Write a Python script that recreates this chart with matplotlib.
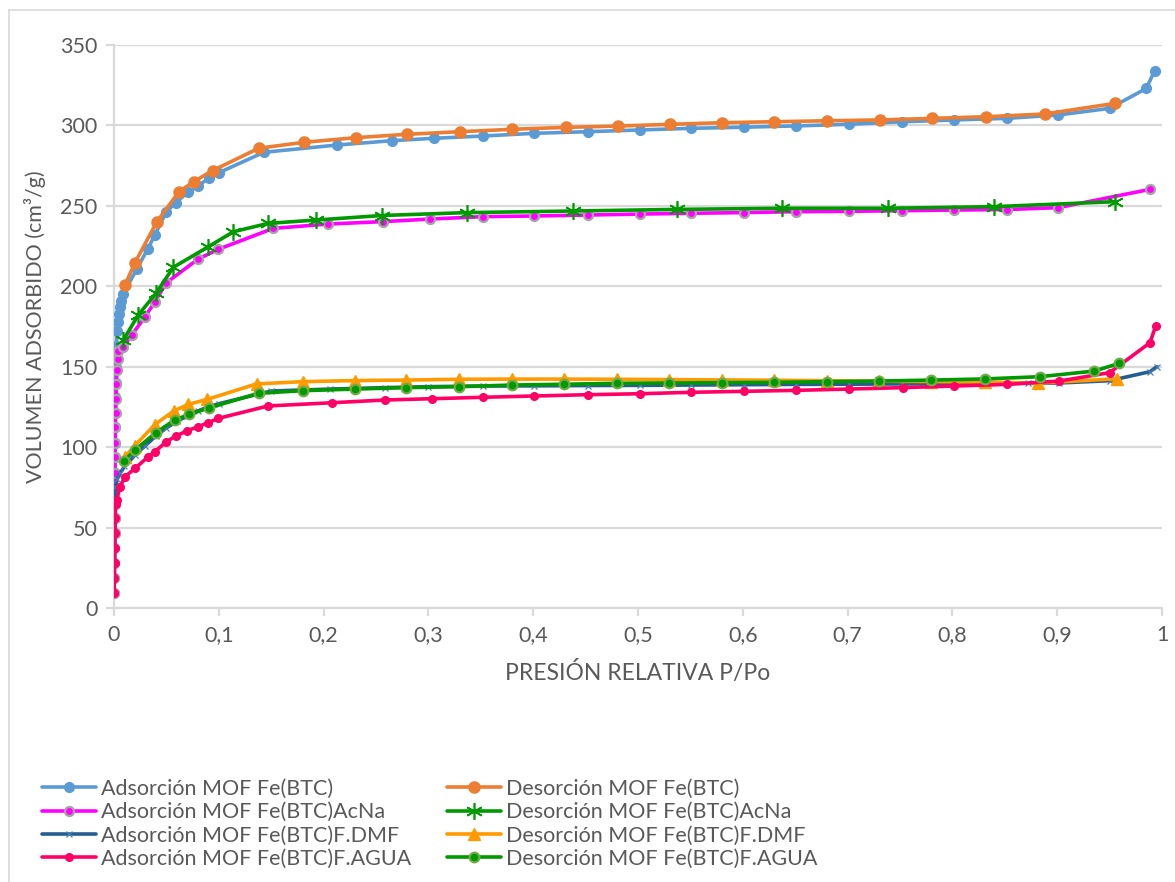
import matplotlib
matplotlib.use("Agg")
import matplotlib.pyplot as plt
from matplotlib.lines import Line2D

plt.rcParams['font.family'] = ['Lato', 'DejaVu Sans']

# ---------------- data ----------------
p_ads_btc = [0.0001, 0.0002, 0.0003, 0.0004, 0.0005, 0.0006, 0.0007, 0.0008, 0.0009, 0.001,
             0.0011, 0.0012, 0.0013, 0.0014, 0.0015, 0.0018, 0.0022, 0.003, 0.004, 0.005,
             0.006, 0.007, 0.009, 0.0216, 0.032, 0.039, 0.050, 0.059, 0.071, 0.080, 0.091,
             0.100, 0.143, 0.2125, 0.265, 0.305, 0.352, 0.401, 0.452, 0.502, 0.551, 0.601,
             0.651, 0.701, 0.752, 0.802, 0.852, 0.901, 0.950, 0.985, 0.993]
v_ads_btc = [9.1, 18.5, 27.8, 37.1, 46.4, 55.8, 64.7, 75, 84, 94,
             102.8, 112.7, 121, 131, 140, 150, 163, 172, 178, 183,
             187, 191, 195.5, 210.5, 223, 231.9, 246.4, 252, 258.8, 262.3, 267.5,
             270.6, 283.3, 287.8, 290.5, 292, 293.4, 295.1, 296.1, 297.2, 298.2, 298.9,
             299.7, 300.7, 302.3, 303.4, 304.4, 306.5, 310.6, 323, 334]

p_des_btc = [0.0105, 0.020, 0.041, 0.062, 0.076, 0.094, 0.138, 0.181, 0.231, 0.280, 0.330,
             0.380, 0.431, 0.481, 0.531, 0.580, 0.630, 0.680, 0.731, 0.781, 0.832, 0.888, 0.955]
v_des_btc = [200.8, 214.7, 240.2, 258.8, 265, 271.9, 285.8, 289.5, 292.4, 294.5, 296.1,
             297.6, 298.8, 299.6, 300.7, 301.7, 302.3, 302.9, 303.4, 304.4, 305.4, 307.1, 313.7]

p_ads_acna = [0.0001, 0.0002, 0.0003, 0.0004, 0.0005, 0.0006, 0.0007, 0.0008, 0.0009, 0.001,
              0.0012, 0.0014, 0.0016, 0.0019, 0.0023, 0.0028, 0.0034, 0.0042,
              0.009, 0.0169, 0.0296, 0.039, 0.050, 0.080, 0.0995, 0.152, 0.2045, 0.257,
              0.3015, 0.352, 0.401, 0.452, 0.502, 0.551, 0.601, 0.651, 0.701, 0.752,
              0.802, 0.852, 0.901, 0.989]
v_ads_acna = [9.1, 18.5, 27.8, 37.1, 46.4, 55.8, 64.7, 75, 84, 94,
              102.8, 112.7, 121, 130, 139, 148, 155, 160,
              162.4, 169.7, 181, 190.4, 202.2, 216.8, 223, 236, 238.7, 240.2,
              241.8, 243.3, 243.7, 244.3, 244.9, 245.4, 245.8, 246.4, 246.6, 247,
              247.4, 247.7, 248.9, 260.3]

p_des_acna = [0.0089, 0.023, 0.040, 0.0566, 0.090, 0.1139, 0.147, 0.193, 0.2554, 0.3365,
              0.438, 0.5375, 0.637, 0.739, 0.84, 0.955]
v_des_acna = [166.6, 182, 195.6, 211.8, 224.6, 233.9, 239.1, 241.2, 244, 245.8,
              246.8, 247.8, 248.5, 248.5, 249.5, 252.6]

p_ads_dmf = [0.0001, 0.0002, 0.0003, 0.0004, 0.0005, 0.0006, 0.0008, 0.0011,
             0.003, 0.006, 0.01, 0.02, 0.03, 0.04, 0.05, 0.06, 0.07, 0.08, 0.09, 0.1,
             0.15, 0.206, 0.259, 0.30, 0.352, 0.401, 0.452, 0.502, 0.551, 0.601, 0.651,
             0.701, 0.752, 0.802, 0.8725, 0.902, 0.950, 0.9885, 0.995]
v_ads_dmf = [9.1, 18.5, 27.8, 37.1, 46.4, 55.8, 64.7, 75,
             80, 84, 88, 95, 101, 107, 112, 116, 119.5, 122.5, 125, 127,
             134.9, 136.1, 137, 137.6, 138, 138.1, 138.3, 138.4, 138.6, 138.8, 139,
             139.1, 139.3, 139.5, 139.7, 139.9, 141.3, 146.9, 150]

p_des_dmf = [0.0105, 0.020, 0.039, 0.057, 0.071, 0.089, 0.136, 0.180, 0.230, 0.279, 0.3295,
             0.3795, 0.4297, 0.4797, 0.53, 0.58, 0.63, 0.68, 0.730, 0.780, 0.831, 0.882, 0.957]
v_des_dmf = [94, 101, 114, 122.5, 126.6, 129.7, 139.3, 140.7, 141.4, 141.7, 142.2,
             142.3, 142.3, 142.2, 142, 141.8, 141.6, 141.3, 141, 140.8, 140.5, 139.8, 142.5]

p_ads_agua = [0.0002, 0.0004, 0.0006, 0.0008, 0.001, 0.0012, 0.0015, 0.0026,
              0.0057, 0.0105, 0.020, 0.0328, 0.039, 0.050, 0.059, 0.070, 0.080, 0.090,
              0.0996, 0.147, 0.2077, 0.2586, 0.303, 0.352, 0.401, 0.452, 0.502, 0.551,
              0.601, 0.651, 0.701, 0.7526, 0.8018, 0.8518, 0.902, 0.950, 0.9885, 0.994]
v_ads_agua = [9.1, 18.5, 27.8, 37.1, 46.4, 55.8, 64.7, 67.1,
              75.4, 81.6, 86.8, 94.1, 97.2, 103.4, 106.9, 110.2, 112.7, 115.2,
              117.9, 125.6, 127.6, 129.3, 130.1, 131, 131.8, 132.6, 133.2, 134.1,
              134.7, 135.3, 136.1, 137, 138, 139, 141.1, 146.3, 164.9, 175.3]

p_des_agua = [0.0095, 0.020, 0.040, 0.058, 0.072, 0.091, 0.138, 0.180, 0.230, 0.279, 0.3295,
              0.3795, 0.4297, 0.4797, 0.53, 0.58, 0.63, 0.68, 0.730, 0.780, 0.831, 0.8836,
              0.9354, 0.9593]
v_des_agua = [91.4, 98.2, 109, 116.9, 120.4, 124.5, 133.5, 135.1, 136.1, 137, 137.6,
              138.6, 139.1, 139.7, 139.9, 140.1, 140.3, 140.7, 141.1, 141.7, 142.4, 143.8,
              147.3, 152.1]

labels = ["Adsorción MOF Fe(BTC)", "Desorción MOF Fe(BTC)",
          "Adsorción MOF Fe(BTC)AcNa", "Desorción MOF Fe(BTC)AcNa",
          "Adsorción MOF Fe(BTC)F.DMF", "Desorción MOF Fe(BTC)F.DMF",
          "Adsorción MOF Fe(BTC)F.AGUA", "Desorción MOF Fe(BTC)F.AGUA"]

x_ticks = [0, 0.1, 0.2, 0.3, 0.4, 0.5, 0.6, 0.7, 0.8, 0.9, 1]
x_tick_labels = ["0", "0,1", "0,2", "0,3", "0,4", "0,5", "0,6", "0,7", "0,8", "0,9", "1"]
y_ticks = [0, 50, 100, 150, 200, 250, 300, 350]

# ---------------- figure ----------------
W, H = 1175, 882
fig = plt.figure(figsize=(W / 100, H / 100), dpi=100)
ax = fig.add_axes([114 / W, 1 - 608 / H, (1162 - 114) / W, (608 - 45) / H])

lw = 2.6
star = (6, 2, 0)
styles = [
    dict(color="#5B9BD5", marker="o", ms=7, mfc="#5B9BD5", mec="#5B9BD5"),
    dict(color="#ED7D31", marker="o", ms=8, mfc="#ED7D31", mec="#ED7D31"),
    dict(color="#FF00FF", marker="o", ms=6.5, mfc="#FF00FF", mec="#A5A5A5", mew=1.6),
    dict(color="#009A00", marker=star, ms=12, mfc="#009A00", mec="#009A00", mew=1.2),
    dict(color="#255E91", marker="x", ms=5, mfc="#255E91", mec="#4A7FB5", mew=0.9),
    dict(color="#FF9A00", marker="^", ms=8, mfc="#FF9A00", mec="#FF9A00"),
    dict(color="#FF0066", marker="o", ms=5.5, mfc="#FF0066", mec="#FF0066"),
    dict(color="#009A00", marker="o", ms=7, mfc="#009A00", mec="#70AD47", mew=1.5),
]
series = [(p_ads_btc, v_ads_btc), (p_des_btc, v_des_btc),
          (p_ads_acna, v_ads_acna), (p_des_acna, v_des_acna),
          (p_ads_dmf, v_ads_dmf), (p_des_dmf, v_des_dmf),
          (p_ads_agua, v_ads_agua), (p_des_agua, v_des_agua)]

handles = []
for i, ((px, vy), st) in enumerate(zip(series, styles)):
    h, = ax.plot(px, vy, lw=lw, zorder=3 + i, solid_joinstyle="round",
                 solid_capstyle="round", label=labels[i], **st)
    handles.append(h)

ax.set_xlim(0, 1)
ax.set_ylim(0, 350)
ax.set_xticks(x_ticks)
ax.set_xticklabels(x_tick_labels)
ax.set_yticks(y_ticks)

grid_c = "#D9D9D9"
ax.yaxis.grid(True, color=grid_c, lw=1.6, zorder=0)
ax.set_axisbelow(True)
for s in ["top", "right"]:
    ax.spines[s].set_visible(False)
for s in ["left", "bottom"]:
    ax.spines[s].set_color(grid_c)
    ax.spines[s].set_linewidth(1.6)
ax.tick_params(axis="both", colors="#595959", labelsize=15.5, length=6, width=1.6,
               direction="out")
ax.tick_params(axis="x", pad=6, color=grid_c)
ax.tick_params(axis="y", pad=6, color=grid_c)

ax.set_xlabel("PRESIÓN RELATIVA P/Po", fontsize=16.5, color="#595959", labelpad=12)
ax.set_ylabel("VOLUMEN ADSORBIDO (cm³/g)", fontsize=15.5, color="#595959", labelpad=10)

# legend: adsorción in column 1, desorción in column 2
order = [0, 2, 4, 6, 1, 3, 5, 7]
fs_leg = 15.5
fig.legend([handles[i] for i in order], [labels[i] for i in order],
           ncol=2, loc="upper left", bbox_to_anchor=(42 / W, 1 - 779 / H),
           frameon=False, fontsize=fs_leg, handlelength=2.5, handletextpad=0.25,
           columnspacing=1.65, labelspacing=0.15, borderpad=0, borderaxespad=0,
           labelcolor="#595959")

# outer chart border (top and left edges visible)
fig.add_artist(Line2D([9 / W, 1.0], [1 - 10 / H, 1 - 10 / H], transform=fig.transFigure,
                      color=grid_c, lw=1.2))
fig.add_artist(Line2D([9 / W, 9 / W], [0, 1 - 10 / H], transform=fig.transFigure,
                      color=grid_c, lw=1.2))

fig.savefig("out.png", dpi=100)
